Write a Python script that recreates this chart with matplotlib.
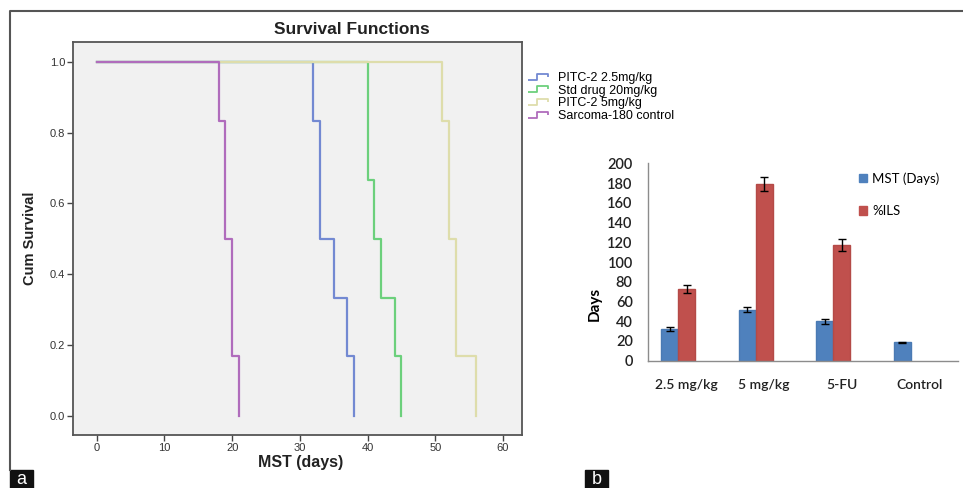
import numpy as np
import matplotlib
matplotlib.use("Agg")
import matplotlib.pyplot as plt
from matplotlib.lines import Line2D
from matplotlib.patches import Rectangle, Patch
from matplotlib.path import Path

plt.rcParams['font.family'] = ['Liberation Sans', 'DejaVu Sans']

# Panel a: Kaplan-Meier survival (6 animals per group)
km_groups = ['PITC-2 2.5mg/kg', 'Std drug 20mg/kg', 'PITC-2 5mg/kg', 'Sarcoma-180 control']
km_colors = ['#7389d2', '#6cd07c', '#deddab', '#b06cbc']
km_times = [
    [0, 32, 33, 35, 37, 38],
    [0, 40, 41, 42, 44, 45],
    [0, 51, 52, 53, 56],
    [0, 18, 19, 20, 21],
]
km_surv = [
    [1.0, 0.833, 0.5, 0.333, 0.167, 0.0],
    [1.0, 0.667, 0.5, 0.333, 0.167, 0.0],
    [1.0, 0.833, 0.5, 0.167, 0.0],
    [1.0, 0.833, 0.5, 0.167, 0.0],
]

# Panel b: MST and %ILS bars
bar_categories = ['2.5 mg/kg', '5 mg/kg', '5-FU', 'Control']
mst_days = [32.5, 51.5, 40.0, 18.5]
mst_err = [2.0, 2.5, 2.5, 0.5]
ils_pct = [72.5, 179.0, 117.0]
ils_err = [4.0, 7.0, 6.0]

W, H = 963, 488
fig = plt.figure(figsize=(W / 100, H / 100), dpi=100)


def px_axes(x0, y0, x1, y1):
    # pixel box (top-left origin) -> figure fraction
    return [x0 / W, 1 - y1 / H, (x1 - x0) / W, (y1 - y0) / H]


# outer border of the figure panel
fig.add_artist(Line2D([10 / W, 10 / W, 1.0], [1 - 470 / H, 1 - 11 / H, 1 - 11 / H],
                      transform=fig.transFigure, color='#555555', lw=1.5))

# ---- panel a ----
ax1 = fig.add_axes(px_axes(73, 42, 522, 435))
ax1.set_facecolor('#f1f1f1')
for times, surv, color, name in zip(km_times, km_surv, km_colors, km_groups):
    ax1.step(times, surv, where='post', color=color, lw=1.6, label=name)
ax1.set_xlim(-3.5, 62.8)
ax1.set_ylim(-0.055, 1.056)
ax1.set_xticks(np.arange(0, 61, 10))
ax1.set_yticks(np.arange(0, 1.01, 0.2))
ax1.set_yticklabels([f'{v:.1f}' for v in np.arange(0, 1.01, 0.2)])
ax1.tick_params(direction='out', length=4, width=1, color='#444444',
                labelsize=8, labelcolor='#333333', pad=1.5)
for sp in ax1.spines.values():
    sp.set_color('#555555')
    sp.set_linewidth(1.3)
ax1.set_xlabel('MST (days)', fontsize=11.5, fontweight='bold', color='#222222')
ax1.set_ylabel('Cum Survival', fontsize=10.5, fontweight='bold', color='#222222')
ax1.xaxis.set_label_coords(0.506, -0.071)
ax1.xaxis.label.set_va('center')
ax1.yaxis.set_label_coords(-0.096, 0.5)
ax1.yaxis.label.set_va('center')
fig.text(352 / W, 1 - 30 / H, 'Survival Functions', ha='center', va='center',
         fontsize=12.5, fontweight='bold', color='#222222')

step_icon = Path([(-1, -0.3), (-0.2, -0.3), (-0.2, 0.3), (0.8, 0.3), (0.8, 0.0)],
                 [Path.MOVETO, Path.LINETO, Path.LINETO, Path.LINETO, Path.LINETO])
km_handles = [Line2D([], [], color=c, marker=step_icon, markersize=16, ls='none',
                     markerfacecolor='none', markeredgewidth=1.3) for c in km_colors]
fig.legend(km_handles, km_groups, loc='upper left', bbox_to_anchor=(529 / W, 1 - 72 / H),
           frameon=False, fontsize=9, handlelength=1.6, handletextpad=0.7,
           labelspacing=0.05, borderpad=0, borderaxespad=0)

# ---- panel b ----
ax2 = fig.add_axes(px_axes(648, 163.3, 958, 360.7))
x = np.arange(len(bar_categories))
bw = 0.22
ax2.bar(x - bw / 2 - 0.11, mst_days, bw, yerr=mst_err, color='#4f81bd',
        edgecolor='#4a7ab3', capsize=3, error_kw=dict(ecolor='black', elinewidth=1, capthick=1),
        label='MST (Days)')
ax2.bar(x[:len(ils_pct)], ils_pct, bw, yerr=ils_err, color='#c0504d',
        edgecolor='#b44a47', capsize=3, error_kw=dict(ecolor='black', elinewidth=1, capthick=1),
        label='%ILS')
ax2.set_xlim(-0.5, 3.5)
ax2.set_ylim(0, 200)
ax2.set_yticks(np.arange(0, 201, 20))
ax2.set_xticks(x)
ax2.set_xticklabels(bar_categories)
for sp in ['top', 'right']:
    ax2.spines[sp].set_visible(False)
for sp in ['left', 'bottom']:
    ax2.spines[sp].set_color('#8c8c8c')
    ax2.spines[sp].set_linewidth(1)
ax2.tick_params(axis='y', length=0, pad=11, labelsize=10.5, labelcolor='#222222')
ax2.tick_params(axis='x', length=0, pad=13, labelsize=10, labelcolor='#222222')
for lab in ax2.get_xticklabels() + ax2.get_yticklabels():
    lab.set_family(['Lato', 'DejaVu Sans'])
    lab.set_fontweight('semibold')
ax2.set_ylabel('Days', fontsize=11, fontweight='bold', family=['Lato', 'DejaVu Sans'])
ax2.yaxis.set_label_coords(-0.171, 0.29)
ax2.yaxis.label.set_va('center')

bar_handles = [Patch(color='#4f81bd'), Patch(color='#c0504d')]
fig.legend(bar_handles, ['MST (Days)', '%ILS'], loc='upper left',
           bbox_to_anchor=(859 / W, 1 - 172 / H), frameon=False,
           prop=dict(family=['Lato', 'DejaVu Sans'], size=9.5),
           handlelength=0.6, handleheight=0.6, handletextpad=0.4,
           labelspacing=1.55, borderpad=0, borderaxespad=0)

# panel letters
for x0, letter in [(10, 'a'), (585, 'b')]:
    fig.add_artist(Rectangle((x0 / W, 0), 23 / W, 18 / H, transform=fig.transFigure,
                             color='#111111'))
    fig.text((x0 + 11.5) / W, 8 / H, letter, color='white', fontsize=13,
             ha='center', va='center')

fig.savefig('out.png', dpi=100)
